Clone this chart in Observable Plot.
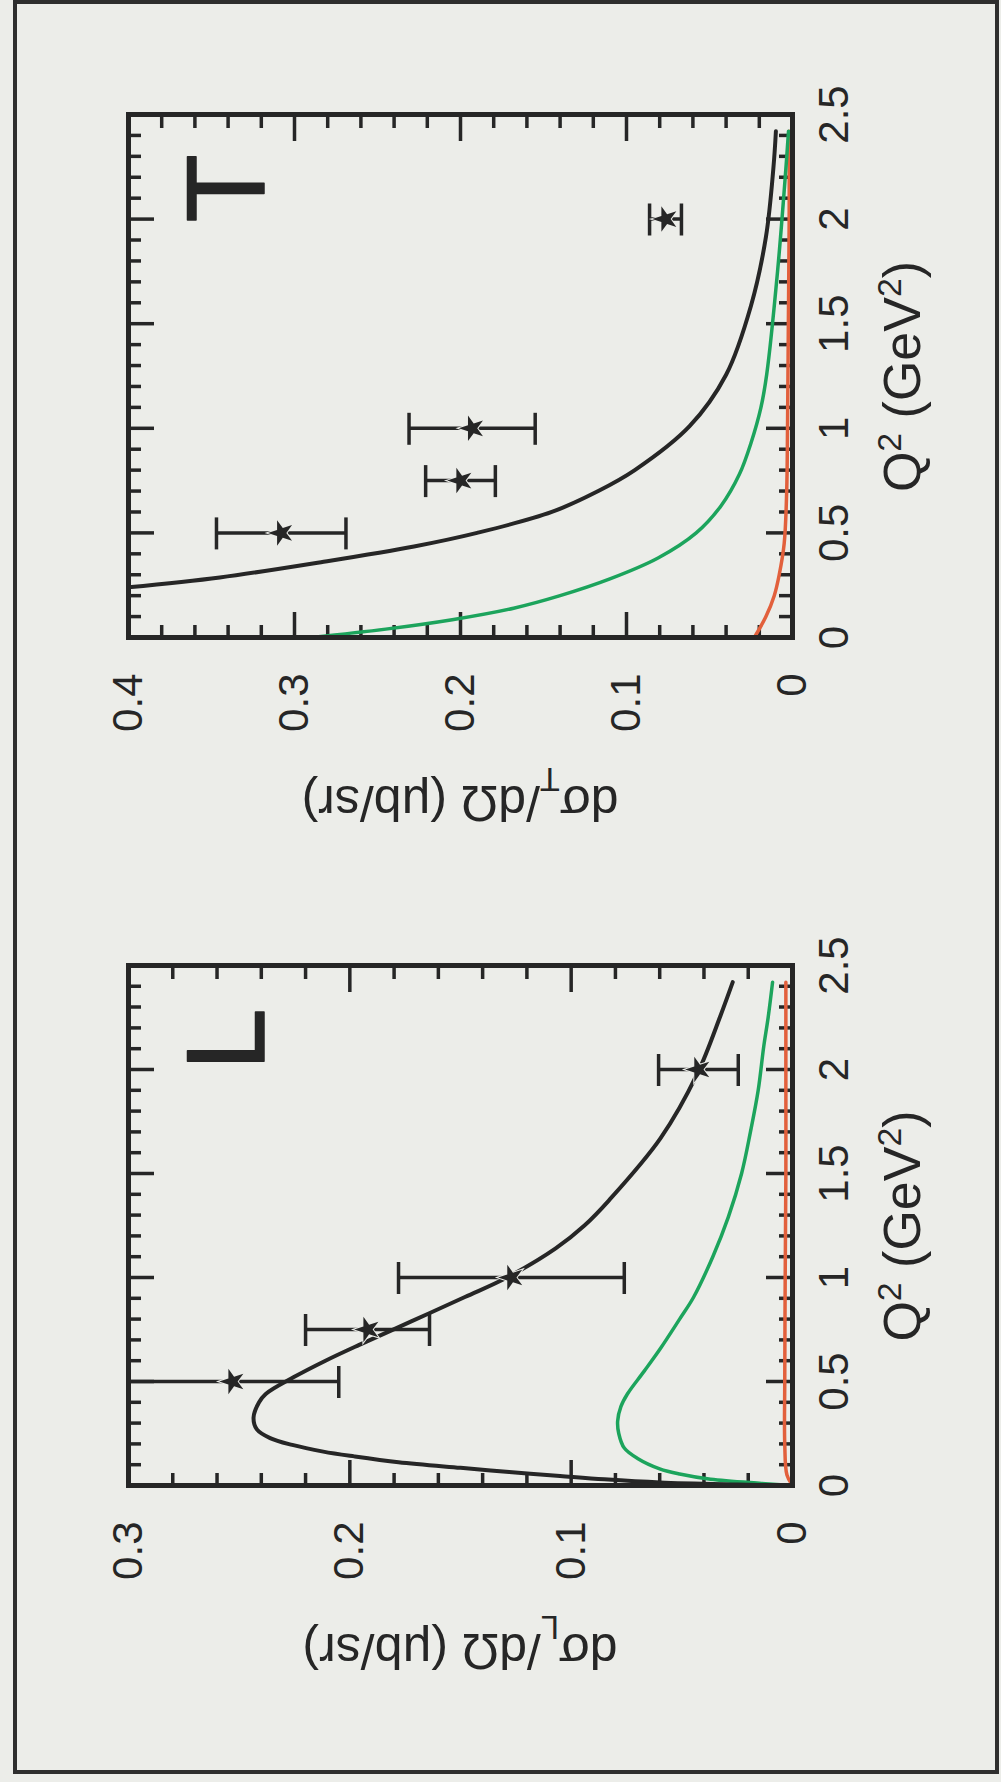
<!DOCTYPE html>
<html><head><meta charset="utf-8">
<script src="https://cdn.jsdelivr.net/npm/d3@7"></script>
<script src="https://cdn.jsdelivr.net/npm/@observablehq/plot@0.6"></script>
<style>
html,body{margin:0;padding:0;background:#ecede9;width:1001px;height:1782px;overflow:hidden}
#rot{position:absolute;left:0;top:0;width:1782px;height:1001px;transform-origin:0 0;transform:translate(0px,1782px) rotate(-90deg);}
#border{position:absolute;left:8px;top:13px;width:1774px;height:986px;border:4px solid #2e2e2e;box-sizing:border-box}
</style></head><body><div id="rot"><div id="border"></div></div>
<script>
// ---- tick labels ----
const Q_LABELS = [0, 0.5, 1, 1.5, 2, 2.5];
const Q_MINOR = [0.1,0.2,0.3,0.4,0.6,0.7,0.8,0.9,1.1,1.2,1.3,1.4,1.6,1.7,1.8,1.9,2.1,2.2,2.3,2.4];
const L_Y_LABELS = [0, 0.1, 0.2, 0.3];
const L_Y_MINOR = [0.02,0.04,0.06,0.08,0.12,0.14,0.16,0.18,0.22,0.24,0.26,0.28];
const T_Y_LABELS = [0, 0.1, 0.2, 0.3, 0.4];
const T_Y_MINOR = [0.02,0.04,0.06,0.08,0.12,0.14,0.16,0.18,0.22,0.24,0.26,0.28,0.32,0.34,0.36,0.38];

// ---- data points (Q^2, value, error) ----
const PT_Q = [0.5, 0.75, 1.0, 2.0];
const L_PT_V = [0.253, 0.192, 0.127, 0.0425];
const L_PT_E = [0.048, 0.028, 0.051, 0.018];
const T_PT_V = [0.308, 0.200, 0.193, 0.0765];
const T_PT_E = [0.039, 0.021, 0.038, 0.0096];

// ---- L curves ----
const L_BLACK_Q = [0, 0.005, 0.015, 0.03, 0.046, 0.065, 0.085, 0.112, 0.14, 0.163, 0.195, 0.228, 0.27, 0.327, 0.4, 0.44, 0.52, 0.6, 0.675, 0.79, 0.906, 1.0, 1.14, 1.25, 1.37, 1.67, 1.98, 2.26, 2.42];
const L_BLACK_V = [0, 0.025, 0.06, 0.085, 0.105, 0.128, 0.15, 0.178, 0.198, 0.212, 0.226, 0.236, 0.242, 0.2435, 0.241, 0.238, 0.2255, 0.211, 0.196, 0.172, 0.148, 0.129, 0.107, 0.094, 0.083, 0.0596, 0.043, 0.0325, 0.027];
const L_GREEN_Q = [0, 0.01, 0.03, 0.055, 0.08, 0.13, 0.18, 0.25, 0.31, 0.38, 0.44, 0.55, 0.66, 0.8, 0.905, 1.1, 1.29, 1.5, 1.7, 1.9, 2.11, 2.25, 2.42];
const L_GREEN_V = [0, 0.014, 0.037, 0.051, 0.06, 0.07, 0.076, 0.0785, 0.079, 0.0775, 0.0746, 0.067, 0.0596, 0.051, 0.0447, 0.036, 0.029, 0.023, 0.019, 0.0155, 0.013, 0.011, 0.009];
const L_ORANGE_Q = [0, 0.05, 0.2, 0.5, 1.0, 1.5, 2.0, 2.42];
const L_ORANGE_V = [0, 0.0025, 0.0035, 0.0035, 0.0033, 0.003, 0.003, 0.003];

// ---- T curves ----
const T_BLACK_Q = [0.24, 0.287, 0.36, 0.435, 0.5, 0.6, 0.7, 0.8, 1.01, 1.256, 1.586, 1.915, 2.245, 2.42];
const T_BLACK_V = [0.4, 0.345, 0.284, 0.228, 0.19, 0.145, 0.117, 0.095, 0.062, 0.040, 0.025, 0.016, 0.0115, 0.010];
const T_GREEN_Q = [0, 0.04, 0.085, 0.14, 0.2, 0.28, 0.38, 0.5, 0.63, 0.78, 0.93, 1.1, 1.26, 1.75, 2.24, 2.42];
const T_GREEN_V = [0.29, 0.245, 0.205, 0.168, 0.14, 0.11, 0.081, 0.058, 0.043, 0.032, 0.025, 0.019, 0.0155, 0.009, 0.004, 0.0024];
const T_ORANGE_Q = [0, 0.1, 0.2, 0.3, 0.45, 0.7, 1.0, 1.5, 2.0, 2.42];
const T_ORANGE_V = [0.023, 0.016, 0.011, 0.008, 0.005, 0.0035, 0.003, 0.0025, 0.002, 0.002];

const INK = "#262626", GREEN = "#1ca45c", ORANGE = "#e2603c", BG = "#ecede9";
const FONT = "'Liberation Sans', Arial, Helvetica, sans-serif";

function panel(o) {
  const W = 891, H = 1001, MT = 128, MB = 209;
  const fh = H - MT - MB, fw = W - o.ml - o.mr;
  const maj = 26, mnr = 13, tw = 3.5;
  const pts = PT_Q.map((q, i) => ({q, v: o.pv[i], e: o.pe[i]}));
  const ln = (qs, vs) => qs.map((q, i) => ({q, v: vs[i]}));
  const tk = {stroke: INK, strokeWidth: tw};
  const svg = Plot.plot({
    width: W, height: H,
    marginLeft: o.ml, marginRight: o.mr, marginTop: MT, marginBottom: MB,
    style: {background: "transparent", fontFamily: FONT, fontSize: "42px", color: INK},
    x: {domain: [0, 2.5]},
    y: {domain: [0, o.ymax]},
    marks: [
      Plot.axisX(Q_LABELS, {tickSize: 0, tickPadding: 26, tickFormat: d => String(d), fontSize: 42, label: null, fill: INK}),
      Plot.axisY(o.yl, {tickSize: 0, tickPadding: 36, tickFormat: d => String(d), fontSize: 42, label: null, fill: INK}),
      Plot.tickX(Q_LABELS, {x: d => d, insetTop: fh - maj, ...tk}),
      Plot.tickX(Q_LABELS, {x: d => d, insetBottom: fh - maj, ...tk}),
      Plot.tickX(Q_MINOR, {x: d => d, insetTop: fh - mnr, ...tk}),
      Plot.tickX(Q_MINOR, {x: d => d, insetBottom: fh - mnr, ...tk}),
      Plot.tickY(o.yl, {y: d => d, insetRight: fw - maj, ...tk}),
      Plot.tickY(o.yl, {y: d => d, insetLeft: fw - maj, ...tk}),
      Plot.tickY(o.ym, {y: d => d, insetRight: fw - mnr, ...tk}),
      Plot.tickY(o.ym, {y: d => d, insetLeft: fw - mnr, ...tk}),
      Plot.line(ln(o.oq, o.ov), {x: "q", y: "v", stroke: ORANGE, strokeWidth: 3.5, curve: "catmull-rom", clip: true}),
      Plot.line(ln(o.gq, o.gv), {x: "q", y: "v", stroke: GREEN, strokeWidth: 3.5, curve: "catmull-rom", clip: true}),
      Plot.line(ln(o.bq, o.bv), {x: "q", y: "v", stroke: INK, strokeWidth: 4, curve: "catmull-rom", clip: true}),
      Plot.ruleX(pts, {x: "q", y1: d => d.v - d.e, y2: d => d.v + d.e, stroke: INK, strokeWidth: 3.5, clip: true}),
      Plot.ruleY(pts, {y: d => d.v - d.e, x1: "q", x2: "q", insetLeft: -16, insetRight: -16, stroke: INK, strokeWidth: 3.5, clip: true}),
      Plot.ruleY(pts, {y: d => d.v + d.e, x1: "q", x2: "q", insetLeft: -16, insetRight: -16, stroke: INK, strokeWidth: 3.5, clip: true}),
      Plot.dot(pts, {x: "q", y: "v", symbol: "star", r: 8, fill: INK, stroke: BG, strokeWidth: 2, paintOrder: "stroke"}),
      Plot.frame({stroke: INK, strokeWidth: 5}),
      Plot.text([o.letter], {text: d => d, frameAnchor: "top-right", textAnchor: "start", lineAnchor: "bottom", dx: o.ldx, dy: 135, fontSize: 112, fill: INK, stroke: INK, strokeWidth: 1.5, fontFamily: FONT})
    ]
  });
  svg.style.position = "absolute";
  svg.style.left = o.left + "px";
  svg.style.top = "0px";
  const s = d3.select(svg);
  const xt = s.append("text").attr("x", o.ml + fw / 2).attr("y", MT + fh + 128)
    .attr("text-anchor", "middle").attr("font-size", 52).attr("fill", INK).attr("font-family", FONT);
  xt.append("tspan").text("Q");
  xt.append("tspan").attr("baseline-shift", "super").attr("font-size", "65%").text("2");
  xt.append("tspan").text(" (GeV");
  xt.append("tspan").attr("baseline-shift", "super").attr("font-size", "65%").text("2");
  xt.append("tspan").text(")");
  const yt = s.append("text").attr("transform", `translate(${o.ml - 148},${MT + fh / 2}) rotate(-90)`)
    .attr("text-anchor", "middle").attr("font-size", 50).attr("fill", INK).attr("font-family", FONT);
  yt.append("tspan").text("dσ");
  yt.append("tspan").attr("baseline-shift", "sub").attr("font-size", "65%").text(o.letter);
  yt.append("tspan").text("/dΩ (μb/sr)");
  document.getElementById("rot").appendChild(svg);
}

panel({left: 0, ml: 296, mr: 75, ymax: 0.3, yl: L_Y_LABELS, ym: L_Y_MINOR, pv: L_PT_V, pe: L_PT_E,
  bq: L_BLACK_Q, bv: L_BLACK_V, gq: L_GREEN_Q, gv: L_GREEN_V, oq: L_ORANGE_Q, ov: L_ORANGE_V, letter: "L", ldx: -105});
panel({left: 891, ml: 253, mr: 115, ymax: 0.4, yl: T_Y_LABELS, ym: T_Y_MINOR, pv: T_PT_V, pe: T_PT_E,
  bq: T_BLACK_Q, bv: T_BLACK_V, gq: T_GREEN_Q, gv: T_GREEN_V, oq: T_ORANGE_Q, ov: T_ORANGE_V, letter: "T", ldx: -108});
</script></body></html>
